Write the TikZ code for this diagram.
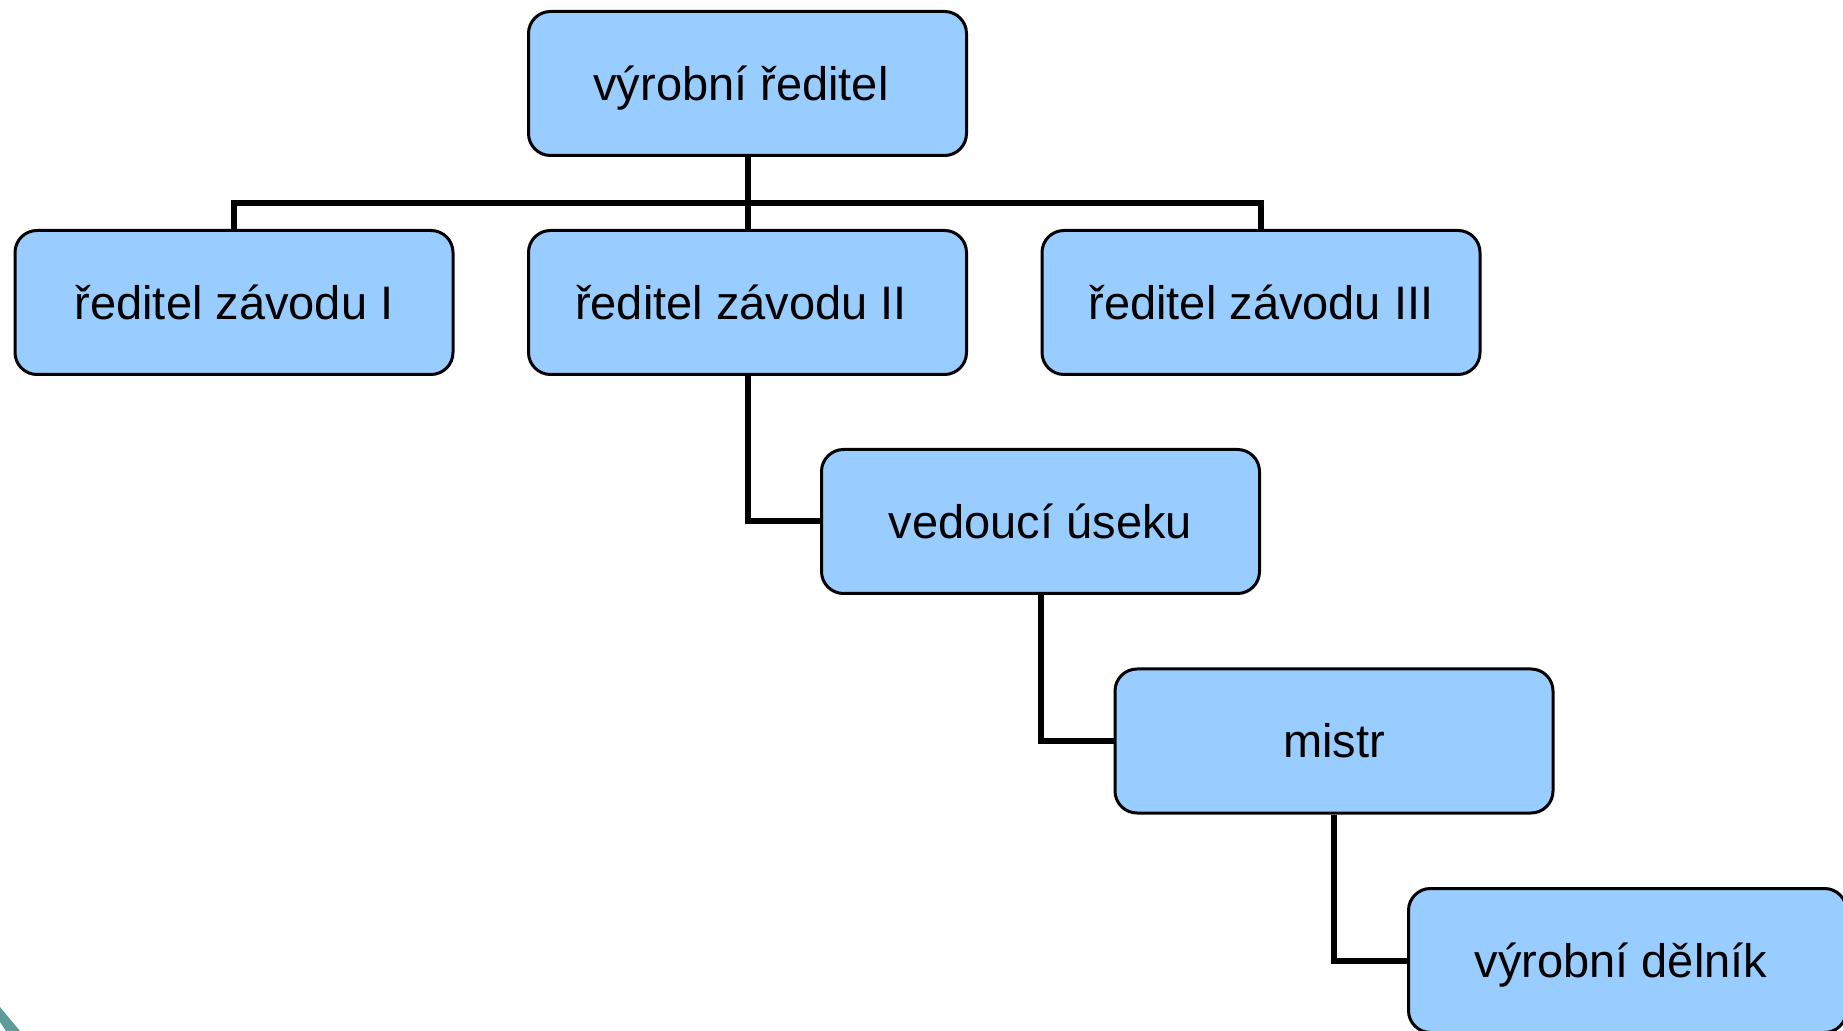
\documentclass[tikz,border=0pt]{standalone}
\usepackage{fontspec}
\setmainfont{Liberation Sans}
\definecolor{boxblue}{HTML}{99CCFF}
\definecolor{frameteal}{HTML}{5E9C9A}
\newcommand{\trail}{\kern6.5pt}
\begin{document}
\begin{tikzpicture}[x=0.5pt,y=-0.5pt,
  box/.style={draw=black, line width=1.5pt, fill=boxblue, rounded corners=11pt,
    minimum width=219pt, minimum height=72pt, inner sep=0pt,
    text height=16.8pt, text depth=0pt,
    font=\fontsize{23.5}{28}\selectfont},
  conn/.style={draw=black, line width=3pt}]
\useasboundingbox (0,0) rectangle (1843,1031);
\fill[frameteal] (0,1007) -- (20,1031) -- (6,1031) -- (0,1022) -- cycle;
\node[box] (top) at (747.5,83.5) {výrobní ředitel\trail};
\node[box] (b1) at (234,302.5) {ředitel závodu I};
\node[box] (b2) at (747.5,302.5) {ředitel závodu II\trail};
\node[box] (b3) at (1261,302.5) {ředitel závodu III};
\node[box] (ved) at (1040.5,521.5) {vedoucí úseku};
\node[box] (mis) at (1334,741) {mistr};
\node[box] (del) at (1627.5,960.5) {výrobní dělník\trail};
\coordinate (bus) at (747.5,203);
\draw[conn] (top.south) -- (bus);
\draw[conn] (b1.north) |- (bus) -| (b3.north);
\draw[conn] (bus) -- (b2.north);
\draw[conn] (b2.south) |- (ved.west);
\draw[conn] (ved.south) |- (mis.west);
\draw[conn] (mis.south) |- (del.west);
\end{tikzpicture}
\end{document}
